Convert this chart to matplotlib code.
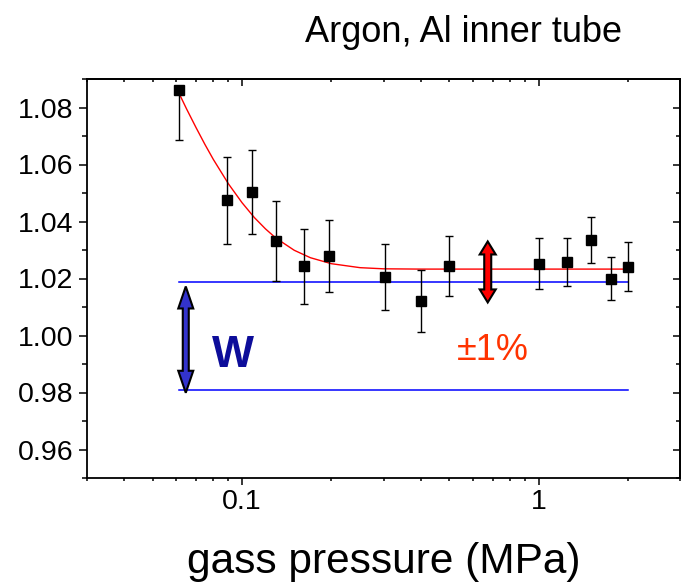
import numpy as np
import matplotlib
matplotlib.use("Agg")
import matplotlib.pyplot as plt
from matplotlib.patches import Polygon
from matplotlib.ticker import MultipleLocator, LogLocator, NullFormatter
from matplotlib.transforms import IdentityTransform

# measured points (gas pressure in MPa, normalised ratio)
pressure = [0.0613, 0.0887, 0.108, 0.1297, 0.162, 0.197, 0.303,
            0.40, 0.497, 1.0, 1.25, 1.5, 1.75, 2.0]
ratio = [1.0860, 1.0475, 1.0504, 1.0332, 1.0243, 1.0280, 1.0204,
         1.0121, 1.0243, 1.0252, 1.0257, 1.0335, 1.0200, 1.0241]
err_low = [0.0175, 0.0154, 0.0148, 0.0142, 0.0133, 0.0126, 0.0115,
           0.0109, 0.0105, 0.0089, 0.0084, 0.0081, 0.0074, 0.0086]
# upper bar of the first point runs out of the frame and is not drawn
err_high = [0.0, 0.0153, 0.0147, 0.0139, 0.0132, 0.0126, 0.0117,
            0.0109, 0.0105, 0.0089, 0.0084, 0.0081, 0.0074, 0.0086]

# red fit curve
fit_p = [0.0613, 0.065, 0.07, 0.075, 0.08, 0.09, 0.10, 0.11, 0.12, 0.13,
         0.15, 0.17, 0.20, 0.25, 0.30, 0.40, 0.60, 1.0, 2.0]
fit_r = [1.0850, 1.0795, 1.0729, 1.0670, 1.0618, 1.0532, 1.0466, 1.0414,
         1.0374, 1.0342, 1.0299, 1.0273, 1.0252, 1.0238, 1.0234, 1.0233,
         1.0233, 1.0233, 1.0233]

# blue band limits
band_p = [0.0613, 2.0]
band_hi = 1.0188
band_lo = 0.981

# annotation arrows: (x, y top tip, y bottom tip)
w_arrow = (0.0646, 1.0172, 0.9799)
pct_arrow = (0.674, 1.0330, 1.0116)


def double_arrow(ax, spec, head_len, head_w, shaft_w, color):
    x, y_top, y_bot = spec
    cx, yt = ax.transData.transform((x, y_top))
    _, yb = ax.transData.transform((x, y_bot))
    pts = [
        (cx, yt), (cx + head_w, yt - head_len), (cx + shaft_w, yt - head_len),
        (cx + shaft_w, yb + head_len), (cx + head_w, yb + head_len), (cx, yb),
        (cx - head_w, yb + head_len), (cx - shaft_w, yb + head_len),
        (cx - shaft_w, yt - head_len), (cx - head_w, yt - head_len),
    ]
    ax.add_patch(Polygon(pts, closed=True, facecolor=color, edgecolor="black",
                         linewidth=1.5, joinstyle="miter",
                         transform=IdentityTransform(), zorder=4,
                         clip_on=False))


def main():
    plt.rcParams["font.family"] = ["Liberation Sans", "DejaVu Sans"]
    fig = plt.figure(figsize=(6.83, 5.85), dpi=100)
    ax = fig.add_axes([87 / 683, 107 / 585, 593 / 683, 399 / 585])

    ax.set_xscale("log")
    ax.set_xlim(0.03, 3)
    ax.set_ylim(0.95, 1.09)

    ax.plot(fit_p, fit_r, color="#ff0000", lw=1.0, zorder=2)
    ax.plot(band_p, [band_hi, band_hi], color="#0000ff", lw=1.1, zorder=2)
    ax.plot(band_p, [band_lo, band_lo], color="#0000ff", lw=1.1, zorder=2)
    ax.errorbar(pressure, ratio, yerr=[err_low, err_high], fmt="s",
                color="black", ms=6.8, ecolor="black", elinewidth=1.0,
                capsize=3.0, capthick=1.0, zorder=3)

    for s in ax.spines.values():
        s.set_linewidth(1.3)

    ax.set_xticks([0.1, 1], labels=["0.1", "1"])
    ax.xaxis.set_minor_locator(LogLocator(subs=np.arange(2, 10)))
    ax.xaxis.set_minor_formatter(NullFormatter())
    ax.yaxis.set_major_locator(MultipleLocator(0.02))
    ax.yaxis.set_minor_locator(MultipleLocator(0.01))
    ax.yaxis.set_major_formatter("{x:.2f}")
    ax.tick_params(which="both", direction="out", top=False, right=False,
                   labelsize=20.5, width=1.1)
    ax.tick_params(axis="y", which="major", length=6, pad=4)
    ax.tick_params(axis="y", which="minor", length=3.4)
    ax.tick_params(axis="x", which="major", length=5, pad=3)
    ax.tick_params(axis="x", which="minor", length=2.5)

    # mirrored ticks pointing inward on top and right
    top = ax.secondary_xaxis("top")
    top.set_xticks([0.1, 1])
    top.xaxis.set_minor_locator(LogLocator(subs=np.arange(2, 10)))
    top.xaxis.set_minor_formatter(NullFormatter())
    top.tick_params(which="both", direction="in", labeltop=False,
                    labelbottom=False, width=1.1)
    top.tick_params(which="major", length=5)
    top.tick_params(which="minor", length=2.5)
    top.spines["top"].set_linewidth(1.3)

    right = ax.secondary_yaxis("right")
    right.yaxis.set_major_locator(MultipleLocator(0.02))
    right.yaxis.set_minor_locator(MultipleLocator(0.01))
    right.tick_params(which="both", direction="in", labelright=False,
                      labelleft=False, width=1.1)
    right.tick_params(which="major", length=5.3)
    right.tick_params(which="minor", length=2.9)
    right.spines["right"].set_linewidth(1.3)

    double_arrow(ax, w_arrow, 22, 7.5, 3.0, "#3333cc")
    double_arrow(ax, pct_arrow, 13, 8, 3.5, "#ff0000")

    fig.text(463.5 / 683, (585 - 41.7) / 585, "Argon, Al inner tube",
             ha="center", va="baseline", fontsize=26)
    fig.text(383.8 / 683, 12 / 585, "gass pressure (MPa)",
             ha="center", va="baseline", fontsize=30.5)
    fig.text(233.3 / 683, (585 - 366.7) / 585, "W", fontsize=32,
             fontweight="bold", color="#0d0d9a", ha="center", va="baseline")
    fig.text(493.3 / 683, (585 - 360) / 585, "±1%", fontsize=26,
             color="#ff3300", ha="center", va="baseline")

    fig.savefig("out.png", dpi=100)


if __name__ == "__main__":
    main()
